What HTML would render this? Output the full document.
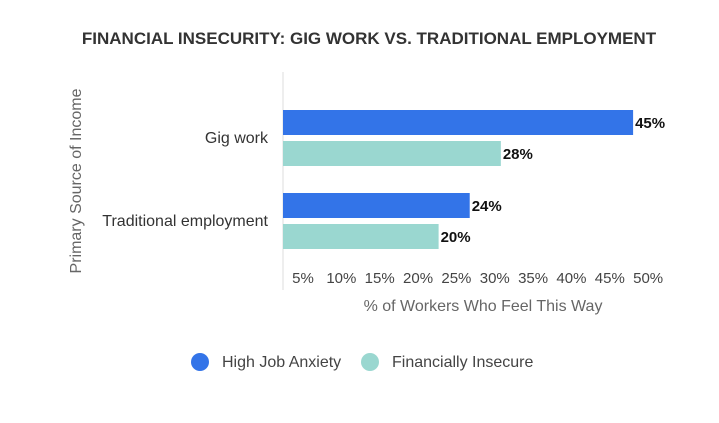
<!DOCTYPE html>
<html><head><meta charset="utf-8"><style>
body{margin:0;background:#fff;width:719px;height:418px;overflow:hidden;font-family:"Liberation Sans",sans-serif}
</style></head><body>
<svg width="719" height="418" font-family="Liberation Sans, sans-serif">
<text x="369" y="44" text-anchor="middle" font-size="17" font-weight="bold" fill="#333">FINANCIAL INSECURITY: GIG WORK VS. TRADITIONAL EMPLOYMENT</text>
<text transform="translate(81,181) rotate(-90)" text-anchor="middle" font-size="16" fill="#666">Primary Source of Income</text>
<line x1="283" y1="72" x2="283" y2="290" stroke="#ddd" stroke-width="1"/>
<g id="bars"></g>
<g id="ticks"></g>
<text x="483" y="311" text-anchor="middle" font-size="16" fill="#666">% of Workers Who Feel This Way</text>
<g>
<circle cx="200" cy="362" r="9" fill="#3374e8"/>
<text x="222" y="367" font-size="16" fill="#444">High Job Anxiety</text>
<circle cx="370" cy="362" r="9" fill="#9ad7d0"/>
<text x="392" y="367" font-size="16" fill="#444">Financially Insecure</text>
</g>
</svg>
<script>
const categories=["Gig work","Traditional employment"];
const highJobAnxiety=[45,24];
const financiallyInsecure=[28,20];
const tickValues=[5,10,15,20,25,30,35,40,45,50];
const tickLabels=["5%","10%","15%","20%","25%","30%","35%","40%","45%","50%"];
const NS="http://www.w3.org/2000/svg";
const x=v=>283+v*7.78;
const tickX=v=>303+(v-5)*7.67;
const catY=i=>138+i*83;
const bars=document.getElementById('bars');
function mk(tag,attrs,parent){const e=document.createElementNS(NS,tag);for(const k in attrs)e.setAttribute(k,attrs[k]);parent.appendChild(e);return e;}
categories.forEach((c,i)=>{
  const cy=catY(i);
  const t=mk('text',{x:268,y:cy+5,'text-anchor':'end','font-size':16,fill:'#333'},bars);
  
  
  t.textContent=c;
  [[highJobAnxiety[i],'#3374e8',cy-28,'bar-high-job-anxiety'],[financiallyInsecure[i],'#9ad7d0',cy+3,'bar-financially-insecure']].forEach(([v,col,y,n])=>{
    const r=mk('rect',{x:283,y:y,width:x(v)-283,height:25,fill:col},bars);
    
    
    const l=mk('text',{x:x(v)+2,y:y+18,'font-size':15,'font-weight':'bold',fill:'#111'},bars);
    
    
    l.textContent=v+'%';
  });
});
const ticks=document.getElementById('ticks');
tickValues.forEach((v,i)=>{
  const t=mk('text',{x:tickX(v),y:283,'text-anchor':'middle','font-size':15,fill:'#444'},ticks);
  
  
  t.textContent=tickLabels[i];
});
</script>
</body></html>
